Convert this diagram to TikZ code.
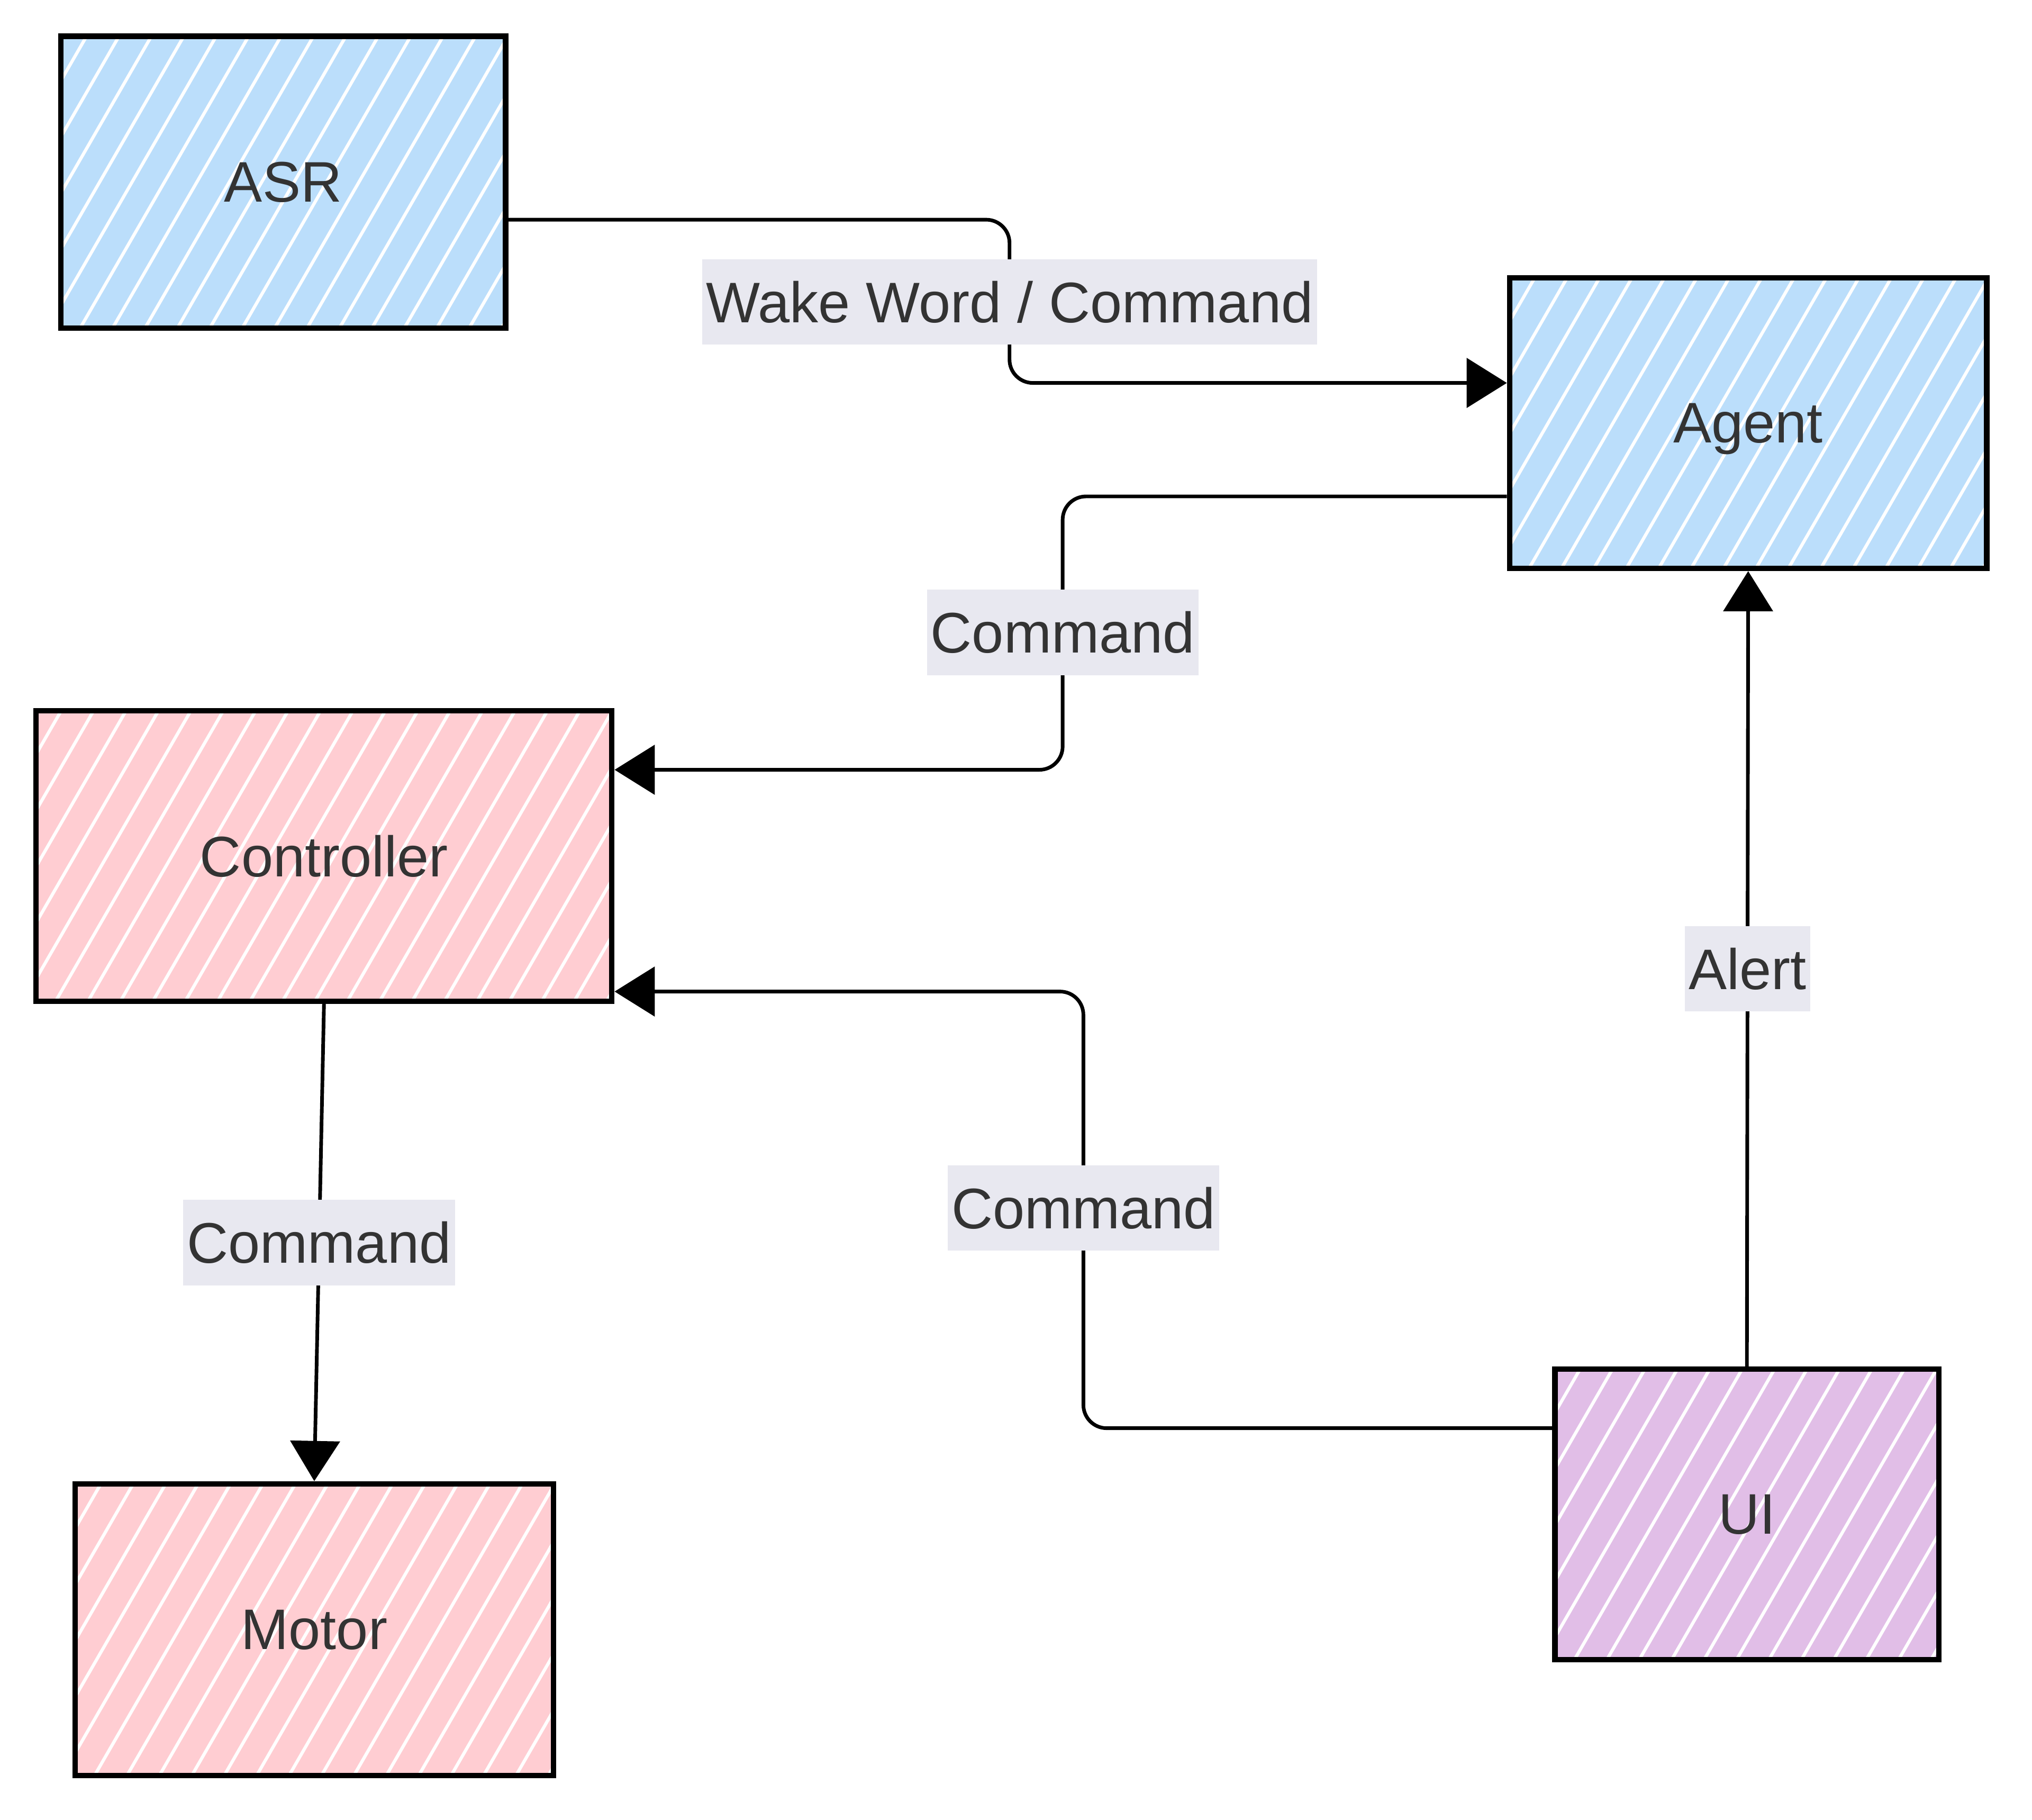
\documentclass[tikz,border=0pt]{standalone}
\usepackage{fontspec}
\setmainfont{Liberation Sans}
\usetikzlibrary{arrows.meta}

\definecolor{nodeblue}{HTML}{BBDEFB}
\definecolor{nodepink}{HTML}{FFCDD2}
\definecolor{nodepurple}{HTML}{E1BEE7}
\definecolor{labelgray}{HTML}{E8E8F0}
\definecolor{textgray}{HTML}{333333}

\tikzset{
  block/.style={draw=black, line width=1.2pt, text=textgray, inner sep=0pt,
    minimum height=2.24cm, text depth=0pt,
    path picture={
      \foreach \s in {-1.6,-1.35,...,4.6}
        \draw[white, line width=0.7pt]
          ([xshift=\s cm]path picture bounding box.south west) -- ++(60:3cm);
    }},
  bluebox/.style={block, fill=nodeblue},
  pinkbox/.style={block, fill=nodepink},
  purplebox/.style={block, fill=nodepurple},
  flow/.style={line width=0.8pt, rounded corners=0.18cm,
    -{Triangle[length=0.31cm, width=0.38cm]}},
  edgelabel/.style={sharp corners, fill=labelgray, text=textgray, inner xsep=0.03cm,
    inner ysep=0pt, minimum height=0.66cm}
}

\begin{document}
\begin{tikzpicture}[x=0.01cm, y=-0.01cm, font=\fontsize{12.55}{15}\selectfont]
\useasboundingbox (0,0) rectangle (1568,1404);

% boxes
\node[bluebox, minimum width=3.43cm, minimum height=2.25cm] (asr) at (218.5,140.5) {ASR};
\node[bluebox, minimum width=3.68cm] (agent) at (1349,326.5) {Agent};
\node[pinkbox, minimum width=4.44cm] (controller) at (250,660.5) {Controller};
\node[pinkbox, minimum width=3.69cm, minimum height=2.25cm] (motor) at (242.5,1257.5) {Motor};
\node[purplebox, minimum width=2.96cm] (ui) at (1348,1168.5) {UI};

% connectors
\draw[flow] ([yshift=-0.29cm]asr.east) -| (779,233) node[edgelabel] {Wake Word / Command}
  |- ([yshift=0.31cm]agent.west);
\draw[flow] ([yshift=-0.565cm]agent.west) -| (820,488) node[edgelabel] {Command}
  |- ([yshift=0.665cm]controller.east);
\draw[flow] (ui.north) -- node[edgelabel] {Alert} (agent.south);
\draw[flow] ([yshift=0.665cm]ui.west) -| (836,932) node[edgelabel] {Command}
  |- ([yshift=-1.045cm]controller.east);
\draw[flow] (controller.south) -- node[edgelabel] {Command} (motor.north);
\end{tikzpicture}
\end{document}
